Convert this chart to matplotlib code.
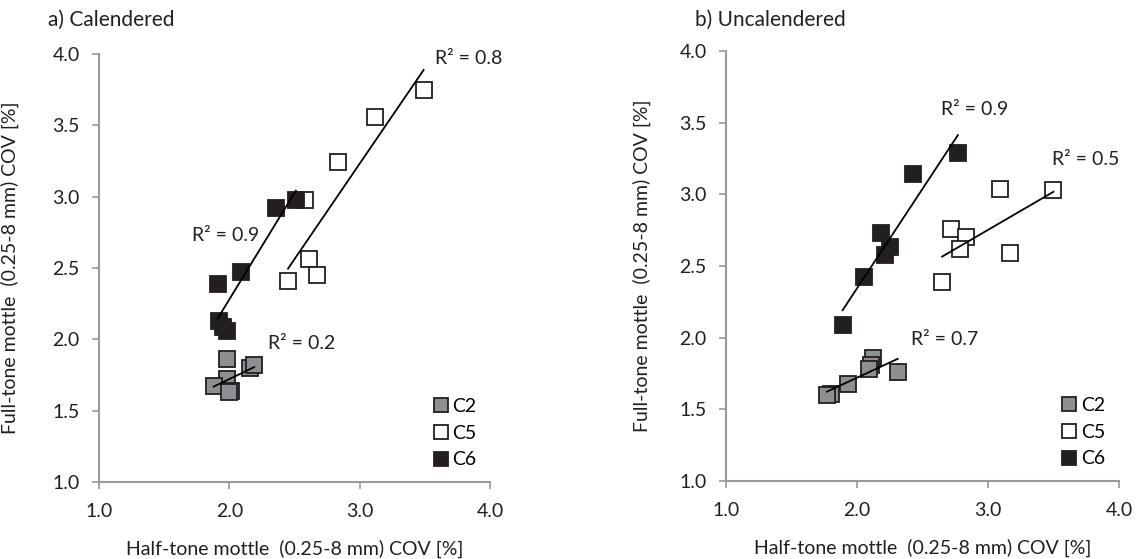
import numpy as np
import matplotlib
matplotlib.use("Agg")
import matplotlib.pyplot as plt

plt.rcParams['font.family'] = ['Lato', 'DejaVu Sans']

# a) Calendered
cal_c2_x = [1.98, 2.16, 2.19, 1.98, 1.88, 2.01, 2.00]
cal_c2_y = [1.86, 1.80, 1.82, 1.72, 1.67, 1.64, 1.63]
cal_c5_x = [3.49, 3.12, 2.83, 2.58, 2.61, 2.67, 2.45]
cal_c5_y = [3.75, 3.56, 3.24, 2.98, 2.56, 2.45, 2.41]
cal_c6_x = [2.51, 2.36, 2.09, 1.91, 1.92, 1.95, 1.98]
cal_c6_y = [2.98, 2.92, 2.47, 2.39, 2.13, 2.09, 2.06]

# b) Uncalendered
unc_c2_x = [2.12, 2.11, 2.09, 2.31, 1.93, 1.80, 1.77]
unc_c2_y = [1.86, 1.81, 1.78, 1.76, 1.68, 1.61, 1.60]
unc_c5_x = [3.50, 3.09, 2.72, 2.83, 2.79, 3.17, 2.65]
unc_c5_y = [3.03, 3.04, 2.76, 2.70, 2.62, 2.59, 2.39]
unc_c6_x = [2.77, 2.43, 2.18, 2.25, 2.21, 2.05, 1.89]
unc_c6_y = [3.29, 3.14, 2.73, 2.63, 2.58, 2.42, 2.09]

series_names = ['C2', 'C5', 'C6']
cal_r2 = ['0.2', '0.8', '0.9']
unc_r2 = ['0.7', '0.5', '0.9']
cal_r2_pos = [(2.30, 1.97), (3.575, 3.97), (1.71, 2.73)]
unc_r2_pos = [(2.41, 1.99), (3.49, 3.24), (2.64, 3.59)]

fills = ['#8e8f92', 'white', '#231f20']
edge = '#231f20'
axis_gray = '#9a9a9a'

fig = plt.figure(figsize=(11.41, 5.59), dpi=100)
ax1 = fig.add_axes([0.0868, 0.1377, 0.3427, 0.7657])
ax2 = fig.add_axes([0.6363, 0.1395, 0.3444, 0.7693])


def panel(ax, xs, ys, r2s, r2pos, title, tx):
    for i in range(3):
        ax.plot(xs[i], ys[i], 's', ms=11.5, mfc=fills[i], mec=edge, mew=1.3,
                label=series_names[i], zorder=3 + i)
    for i in range(3):
        k, b = np.polyfit(xs[i], ys[i], 1)
        xl = np.array([min(xs[i]), max(xs[i])])
        ax.plot(xl, k * xl + b, color='black', lw=1.3, zorder=10)
        ax.text(r2pos[i][0], r2pos[i][1], 'R² = ' + r2s[i], fontsize=14,
                va='center', ha='left', color='#231f20')
    ax.set_xlim(1, 4)
    ax.set_ylim(1, 4)
    ax.set_xticks([1, 2, 3, 4])
    ax.set_yticks([1, 1.5, 2, 2.5, 3, 3.5, 4])
    ax.xaxis.set_major_formatter(matplotlib.ticker.FormatStrFormatter('%.1f'))
    ax.yaxis.set_major_formatter(matplotlib.ticker.FormatStrFormatter('%.1f'))
    for s in ['top', 'right']:
        ax.spines[s].set_visible(False)
    for s in ['left', 'bottom']:
        ax.spines[s].set_color(axis_gray)
        ax.spines[s].set_linewidth(1.5)
    ax.tick_params(colors=axis_gray, labelcolor='#231f20', labelsize=14,
                   length=5, width=1.2)
    ax.tick_params(axis='y', pad=9)
    ax.tick_params(axis='x', pad=10)
    ax.set_xlabel('Half-tone mottle  (0.25-8 mm) COV [%]', fontsize=14, color='#231f20')
    ax.set_ylabel('Full-tone mottle  (0.25-8 mm) COV [%]', fontsize=14, color='#231f20')
    ax.legend(loc='lower right', bbox_to_anchor=(1.0, 0.0), frameon=False,
              fontsize=14, markerscale=0.85, handlelength=0.8,
              handletextpad=0.2, labelspacing=0.5, borderaxespad=0.3)
    fig.text(tx, 0.965, title, fontsize=15, color='#231f20', va='center')


panel(ax1, [cal_c2_x, cal_c5_x, cal_c6_x], [cal_c2_y, cal_c5_y, cal_c6_y],
      cal_r2, cal_r2_pos, 'a) Calendered', 0.042)
panel(ax2, [unc_c2_x, unc_c5_x, unc_c6_x], [unc_c2_y, unc_c5_y, unc_c6_y],
      unc_r2, unc_r2_pos, 'b) Uncalendered', 0.609)

ax1.yaxis.set_label_coords(-0.205, 0.5)
ax2.yaxis.set_label_coords(-0.19, 0.5)
ax1.xaxis.set_label_coords(0.5, -0.135)
ax2.xaxis.set_label_coords(0.5, -0.135)

fig.savefig('out.png', dpi=100)
